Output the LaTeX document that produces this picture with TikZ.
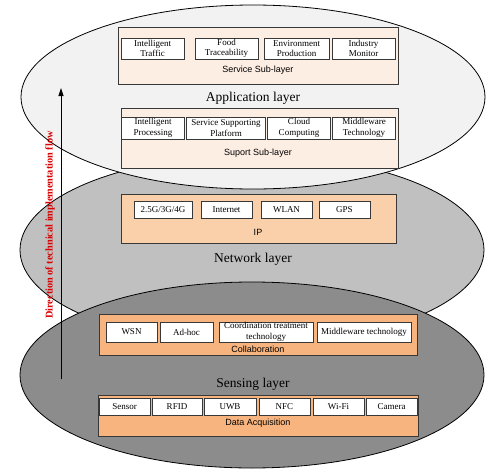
\documentclass[tikz,border=0pt]{standalone}
\usepackage{fontspec}
\setmainfont{Liberation Serif}
\setsansfont{Liberation Sans}
\usetikzlibrary{arrows.meta}
\definecolor{appgray}{HTML}{F2F2F2}
\definecolor{netgray}{HTML}{C0C0C0}
\definecolor{sensgray}{HTML}{8C8C8C}
\definecolor{peachA}{HTML}{FDEEE4}
\definecolor{peachB}{HTML}{FAD0AA}
\definecolor{peachC}{HTML}{F8B47E}
\definecolor{edge}{HTML}{383838}
\definecolor{flowred}{HTML}{D80000}
\tikzset{
  layer/.style={draw=black, line width=0.8pt},
  subbox/.style={draw=edge, line width=0.9pt, inner sep=0pt},
  item/.style={draw=edge, fill=white, line width=1pt, inner sep=0pt, align=center,
    font=\fontsize{9}{10.6}\selectfont},
  sublabel/.style={font=\sffamily\fontsize{9}{10}\selectfont, inner sep=0pt},
  layerlabel/.style={font=\fontsize{13.5}{15}\selectfont, inner sep=0pt},
}
\begin{document}
\begin{tikzpicture}[x=1pt, y=-1pt]
\useasboundingbox (0,0) rectangle (499,472);
% ellipses
\draw[layer, fill=netgray] (252,250) ellipse [x radius=232pt, y radius=95pt];
\draw[layer, fill=appgray] (253,97) ellipse [x radius=232pt, y radius=92pt];
\draw[layer, fill=sensgray] (252,375) ellipse [x radius=232pt, y radius=93pt];

% Application layer
\node[subbox, fill=peachA, minimum width=280pt, minimum height=57pt] (service) at (258,55.5) {};
\node[item, minimum width=63pt, minimum height=21pt] (s1) at (152.5,48.5) {Intelligent\\Traffic};
\node[item, minimum width=63pt, minimum height=21pt] (s2) at (226.5,48.5) {Food\\Traceability};
\node[item, minimum width=65pt, minimum height=21pt] (s3) at (296.5,48.5) {Environment\\Production};
\node[item, minimum width=63pt, minimum height=21pt] (s4) at (363.5,48.5) {Industry\\Monitor};
\node[sublabel] (servicelbl) at (258,70) {Service Sub-layer};
\node[layerlabel] (applbl) at (253,98) {Application layer};
\node[subbox, fill=peachA, minimum width=277pt, minimum height=60pt] (support) at (259.5,138) {};
\node[item, minimum width=63pt, minimum height=22pt] (p1) at (153,128) {Intelligent\\Processing};
\node[item, minimum width=79pt, minimum height=22pt] (p2) at (226,128) {Service Supporting\\Platform};
\node[item, minimum width=63pt, minimum height=22pt] (p3) at (299,128) {Cloud\\Computing};
\node[item, minimum width=63pt, minimum height=22pt] (p4) at (364,128) {Middleware\\Technology};
\node[sublabel] (supportlbl) at (258,153) {Suport Sub-layer};

% Network layer
\node[subbox, fill=peachB, minimum width=275pt, minimum height=49pt] (ip) at (258.5,218.5) {};
\node[item, minimum width=58pt, minimum height=17pt] (n1) at (163,209.5) {2.5G/3G/4G};
\node[item, minimum width=51pt, minimum height=17pt] (n2) at (226.5,209.5) {Internet};
\node[item, minimum width=51pt, minimum height=17pt] (n3) at (286.5,209.5) {WLAN};
\node[item, minimum width=51pt, minimum height=17pt] (n4) at (344.5,209.5) {GPS};
\node[sublabel] (iplbl) at (258,232) {IP};
\node[layerlabel] (netlbl) at (253,259) {Network layer};

% Sensing layer
\node[subbox, fill=peachC, minimum width=318pt, minimum height=41pt] (collab) at (258,334.5) {};
\node[item, minimum width=51pt, minimum height=20pt] (c1) at (131.5,332) {WSN};
\node[item, minimum width=53pt, minimum height=20pt] (c2) at (186.5,332) {Ad-hoc};
\node[item, minimum width=94pt, minimum height=20pt, font=\fontsize{9}{10.5}\selectfont] (c3) at (266,332) {Coordination treatment\\technology};
\node[item, minimum width=94pt, minimum height=20pt] (c4) at (364,332) {Middleware technology};
\node[sublabel] (collablbl) at (258,349) {Collaboration};
\node[layerlabel] (senslbl) at (253,384) {Sensing layer};
\node[subbox, fill=peachC, minimum width=320pt, minimum height=41pt] (acq) at (258,415.5) {};
\node[item, minimum width=51pt, minimum height=17pt] (d1) at (124.5,406.5) {Sensor};
\node[item, minimum width=50pt, minimum height=17pt] (d2) at (177,406.5) {RFID};
\node[item, minimum width=52pt, minimum height=17pt] (d3) at (230,406.5) {UWB};
\node[item, minimum width=51pt, minimum height=17pt] (d4) at (284.5,406.5) {NFC};
\node[item, minimum width=51pt, minimum height=17pt] (d5) at (338.5,406.5) {Wi-Fi};
\node[item, minimum width=51pt, minimum height=17pt] (d6) at (391.5,406.5) {Camera};
\node[sublabel] (acqlbl) at (258,423) {Data Acquisition};

% flow arrow
\coordinate (abot) at (61,379);
\coordinate (atop) at (61,88);
\draw[line width=0.8pt, -{Triangle[length=8pt, width=5pt]}] (abot) -- (atop);
\node[rotate=90, text=flowred, font=\bfseries\fontsize{10.3}{12}\selectfont, inner sep=0pt] (flow) at (50,225) {Direction of technical implementation flow};
\end{tikzpicture}
\end{document}
